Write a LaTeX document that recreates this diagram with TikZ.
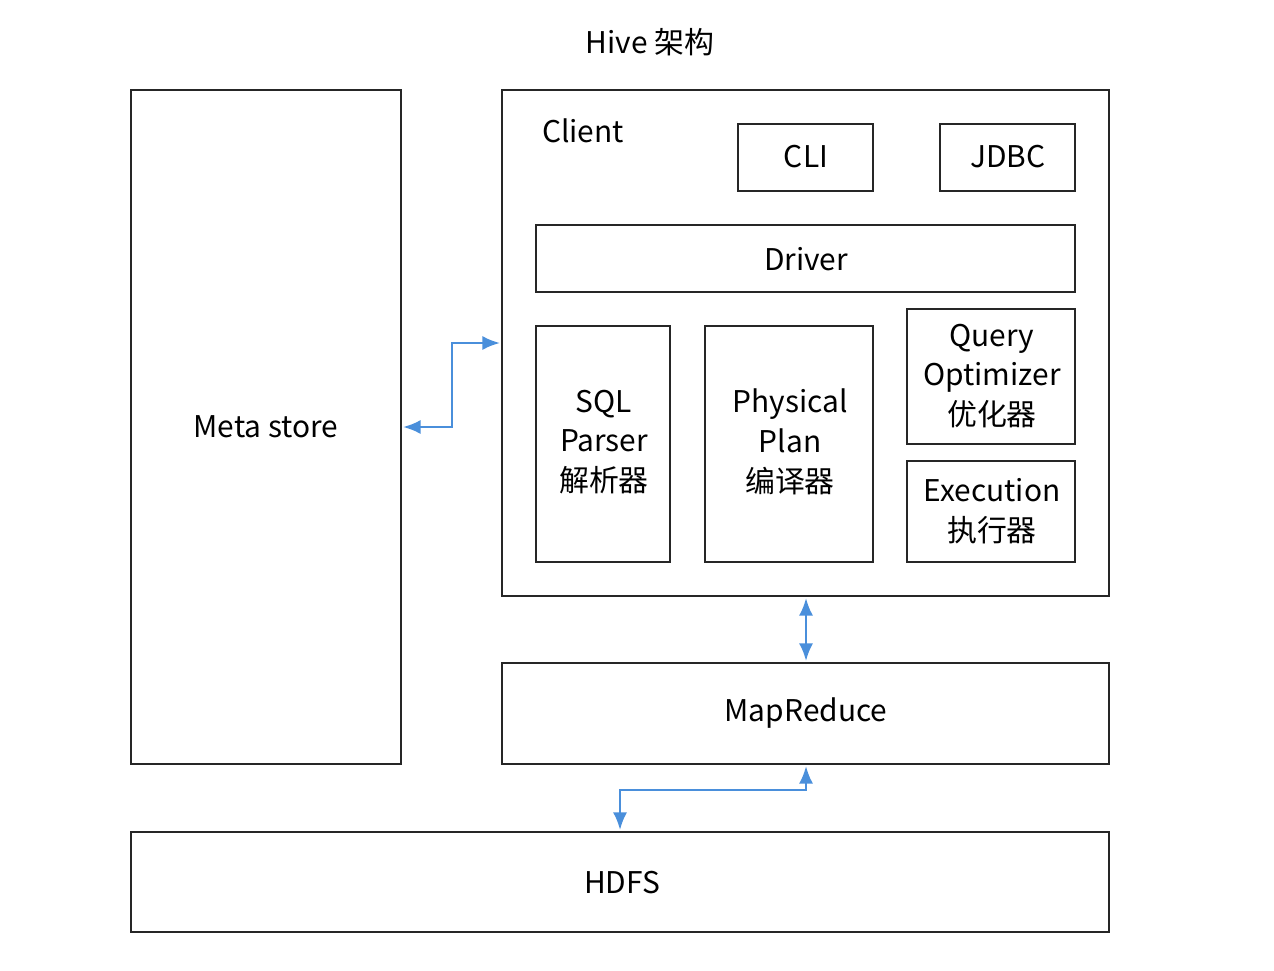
\documentclass[tikz,border=0pt]{standalone}
\usepackage{fontspec}
\setmainfont{Noto Sans CJK SC}
\usetikzlibrary{arrows.meta}
\definecolor{arrowblue}{HTML}{4A8FDB}
\tikzset{
  box/.style={draw=black!85,line width=0.6pt,inner sep=0pt},
  link/.style={arrowblue,line width=0.7pt,{Latex[length=5pt,width=4pt]}-{Latex[length=5pt,width=4pt]}},
  txt/.style={font=\fontsize{8.5}{11.3}\selectfont,align=center}
}
\begin{document}
\begin{tikzpicture}[x=0.01cm,y=-0.01cm]
  \useasboundingbox (0,0) rectangle (1274,970);
  \node[txt] (title) at (650,42) {Hive 架构};
  % outer boxes
  \draw[box] (131,90) rectangle (401,764);
  \node[txt] (meta) at (266,427) {Meta store};
  \draw[box] (502,90) rectangle (1109,596);
  \node[txt] (client) at (583,131) {Client};
  \draw[box] (502,663) rectangle (1109,764);
  \node[txt] (mr) at (806,713) {MapReduce};
  \draw[box] (131,832) rectangle (1109,932);
  \node[txt] (hdfs) at (622,883) {HDFS};
  % client parts
  \draw[box] (738,124) rectangle (873,191);
  \node[txt] (cli) at (806,157) {CLI};
  \draw[box] (940,124) rectangle (1075,191);
  \node[txt] (jdbc) at (1008,157) {JDBC};
  \draw[box] (536,225) rectangle (1075,292);
  \node[txt] (driver) at (806,259) {Driver};
  \draw[box] (536,326) rectangle (670,562);
  \node[txt] (sql) at (604,442) {SQL\\Parser\\解析器};
  \draw[box] (705,326) rectangle (873,562);
  \node[txt] (plan) at (790,442) {Physical\\Plan\\编译器};
  \draw[box] (907,309) rectangle (1075,444);
  \node[txt] (opt) at (992,376) {Query\\Optimizer\\优化器};
  \draw[box] (907,461) rectangle (1075,562);
  \node[txt] (exec) at (992,511) {Execution\\执行器};
  % connectors
  \coordinate (metaR) at (403,427);
  \coordinate (clientL) at (500,343);
  \coordinate (clientB) at (806,598);
  \coordinate (mrT) at (806,661);
  \coordinate (mrB) at (806,766);
  \coordinate (hdfsT) at (620,830);
  \draw[link] (metaR) -- (452,427) -- (452,343) -- (clientL);
  \draw[link] (clientB) -- (mrT);
  \draw[link] (mrB) -- (806,790) -- (620,790) -- (hdfsT);
\end{tikzpicture}
\end{document}
